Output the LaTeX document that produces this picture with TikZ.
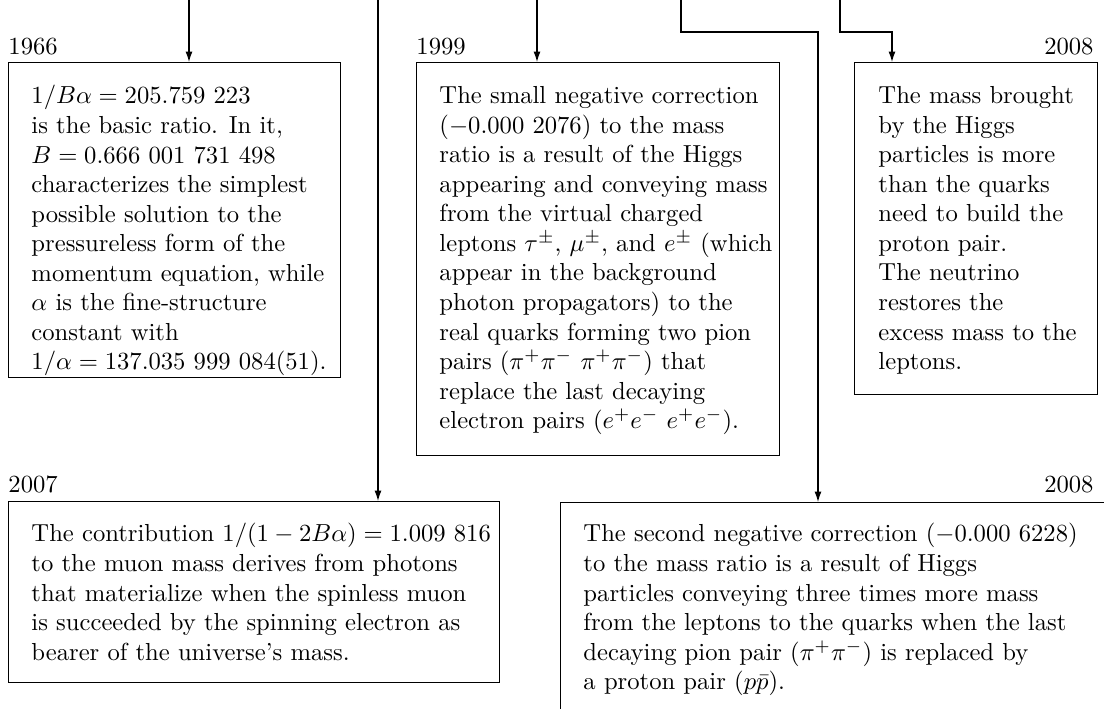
\documentclass[tikz,border=0pt]{standalone}
\usetikzlibrary{arrows.meta}
\newlength\pxl
\setlength\pxl{0.406pt}
\begin{document}
\begin{tikzpicture}[x=\pxl,y=-\pxl,
  frame/.style={draw, line width=0.45pt, inner sep=0pt, anchor=north west},
  txt/.style={align=left, inner sep=0pt, anchor=north west, font=\fontsize{10}{12}\selectfont},
  yr/.style={inner sep=0pt, font=\fontsize{10}{12}\selectfont},
  link/.style={line width=0.45pt, -{Latex[length=4.2pt,width=2.8pt]}},
  plain/.style={line width=0.45pt}]
\useasboundingbox (0,0) rectangle (1104,709);
\clip (0,0) rectangle (1104,709);

% boxes
\node[frame, minimum width=332\pxl, minimum height=315\pxl] (b1) at (8,62) {};
\node[frame, minimum width=363\pxl, minimum height=393\pxl] (b2) at (416,62) {};
\node[frame, minimum width=243\pxl, minimum height=332\pxl] (b3) at (854,62) {};
\node[frame, minimum width=491\pxl, minimum height=181\pxl] (b4) at (8,501) {};
\node[frame, minimum width=560\pxl, minimum height=230\pxl] (b5) at (560,502) {};

% year labels
\node[yr, anchor=base west] (y1) at (8,55) {1966};
\node[yr, anchor=base west] (y2) at (416,55) {1999};
\node[yr, anchor=base east] (y3) at (1094,55) {2008};
\node[yr, anchor=base west] (y4) at (8,493) {2007};
\node[yr, anchor=base east] (y5) at (1094,493) {2008};

% texts
\node[txt] (t1) at (31,85) {$1/B\alpha = 205.759\ 223$\\
is the basic ratio. In it,\\
$B = 0.666\ 001\ 731\ 498$\\
characterizes the simplest\\
possible solution to the\\
pressureless form of the\\
momentum equation, while\\
$\alpha$ is the fine-structure\\
constant with\\
$1/\alpha = 137.035\ 999\ 084(51)$.};

\node[txt] (t2) at (439,86) {The small negative correction\\
$(-0.000\ 2076)$ to the mass\\
ratio is a result of the Higgs\\
appearing and conveying mass\\
from the virtual charged\\
leptons $\tau^\pm$, $\mu^\pm$, and $e^\pm$ (which\\
appear in the background\\
photon propagators) to the\\
real quarks forming two pion\\
pairs $(\pi^+\pi^-\ \pi^+\pi^-)$ that\\
replace the last decaying\\
electron pairs $(e^+e^-\ e^+e^-)$.};

\node[txt] (t3) at (878,86) {The mass brought\\
by the Higgs\\
particles is more\\
than the quarks\\
need to build the\\
proton pair.\\
The neutrino\\
restores the\\
excess mass to the\\
leptons.};

\node[txt] (t4) at (31,523) {The contribution $1/(1-2B\alpha) = 1.009\ 816$\\
to the muon mass derives from photons\\
that materialize when the spinless muon\\
is succeeded by the spinning electron as\\
bearer of the universe's mass.};

\node[txt] (t5) at (583,523) {The second negative correction $(-0.000\ 6228)$\\
to the mass ratio is a result of Higgs\\
particles conveying three times more mass\\
from the leptons to the quarks when the last\\
decaying pion pair $(\pi^+\pi^-)$ is replaced by\\
a proton pair $(p\bar p)$.};

% connector sources above the picture
\coordinate (s1) at (189,-10);
\coordinate (s2) at (378,-10);
\coordinate (s3) at (537,-10);
\coordinate (s4) at (681,-10);
\coordinate (s5) at (840,-10);
\coordinate (k4) at (681,32);
\coordinate (k5) at (840,32);

\draw[link] (s1) -- (s1 |- b1.north);
\draw[link] (s2) -- (s2 |- b4.north);
\draw[link] (s3) -- (s3 |- b2.north);
\draw[link] (s4) -- (k4) -| ([xshift=258\pxl]b5.north west);
\draw[link] (s5) -- (k5) -| ([xshift=38\pxl]b3.north west);
\end{tikzpicture}
\end{document}
